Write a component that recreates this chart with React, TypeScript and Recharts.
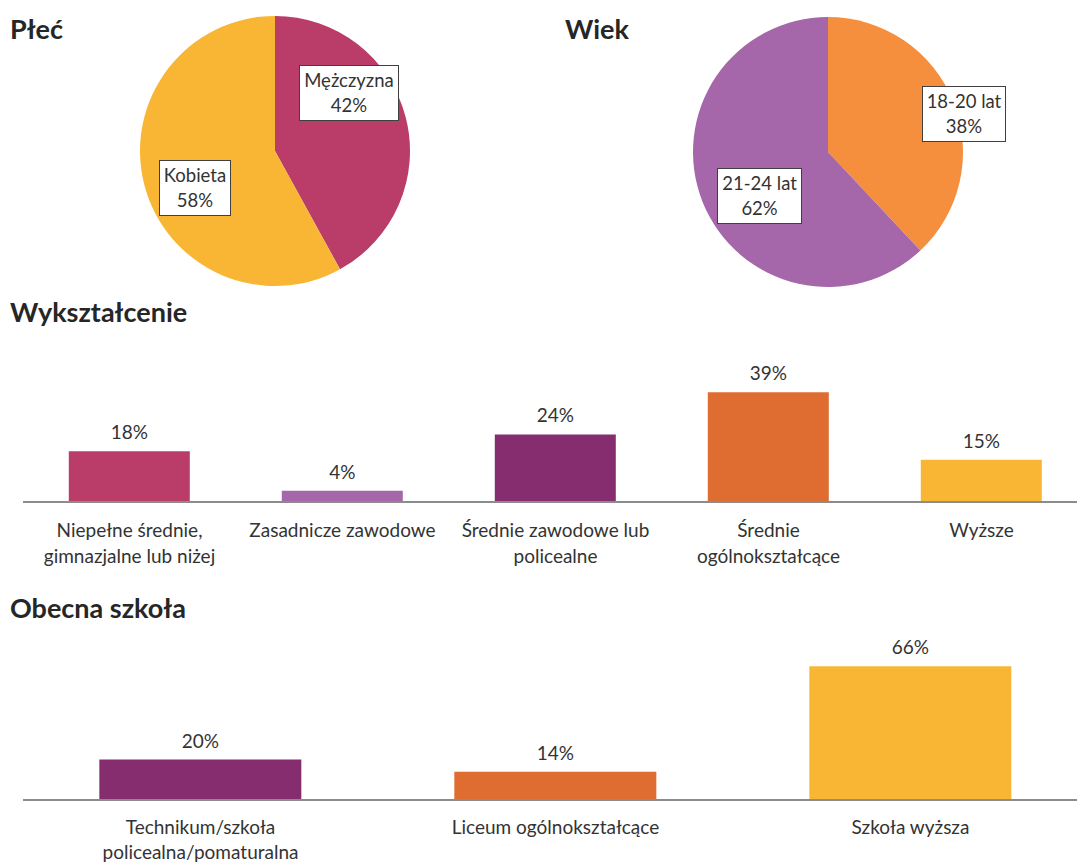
import { PieChart, Pie, Cell, BarChart, Bar, XAxis, YAxis, LabelList } from "recharts";

// data
const genderNames = ["Mężczyzna", "Kobieta"];
const genderValues = [42, 58];
const genderColors = ["#BA3C68", "#F8B634"];

const ageNames = ["18-20 lat", "21-24 lat"];
const ageValues = [38, 62];
const ageColors = ["#F58F3D", "#A567AA"];

const eduCategories = [
  "Niepełne średnie,\ngimnazjalne lub niżej",
  "Zasadnicze zawodowe",
  "Średnie zawodowe lub\npolicealne",
  "Średnie\nogólnokształcące",
  "Wyższe",
];
const eduValues = [18, 4, 24, 39, 15];
const eduColors = ["#BA3C68", "#A567AA", "#862D6F", "#DF6C30", "#F8B634"];

const schoolCategories = [
  "Technikum/szkoła\npolicealna/pomaturalna",
  "Liceum ogólnokształcące",
  "Szkoła wyższa",
];
const schoolValues = [20, 14, 66];
const schoolColors = ["#862D6F", "#DF6C30", "#F8B634"];

// label box centres, as a fraction of the radius from the pie centre
const genderLabelPos = [
  [0.548, -0.43],
  [-0.593, 0.274],
];
const ageLabelPos = [
  [1.007, -0.285],
  [-0.507, 0.326],
];

const FONT = "Lato, 'Open Sans', sans-serif";
const TEXT = "#333333";

const toPie = (names: string[], values: number[]) =>
  names.map((name, i) => ({ name, value: values[i] }));
const toBars = (cats: string[], values: number[]) =>
  cats.map((name, i) => ({ name, value: values[i] }));

const pieLabel =
  (names: string[], pos: number[][], fx: number, fy: number) => (props: any) => {
    const idx = props.index;
    const cx = props.cx ?? fx;
    const cy = props.cy ?? fy;
    const r = props.outerRadius;
    const x = cx + pos[idx][0] * r;
    const y = cy + pos[idx][1] * r;
    return (
      <foreignObject x={x - 90} y={y - 45} width={180} height={90} key={`l-${idx}`}>
        <div
          style={{
            width: "100%",
            height: "100%",
            display: "flex",
            alignItems: "center",
            justifyContent: "center",
          }}
        >
          <div
            style={{
              background: "#fff",
              border: "1.5px solid #404040",
              padding: "2px 4px",
              textAlign: "center",
              fontFamily: FONT,
              fontSize: 18.5,
              lineHeight: "25px",
              color: TEXT,
              whiteSpace: "nowrap",
            }}
          >
            {names[idx]}
            <br />
            {props.value}%
          </div>
        </div>
      </foreignObject>
    );
  };

const MultiLineTick = ({ x, y, payload, first, step }: any) => {
  const lines = String(payload.value).split("\n");
  return (
    <text x={x} y={y} textAnchor="middle" fill={TEXT} fontSize={19} fontFamily={FONT}>
      {lines.map((l, i) => (
        <tspan key={i} x={x} dy={i === 0 ? first : step}>
          {l}
        </tspan>
      ))}
    </text>
  );
};

const titleStyle = (left: number, top: number): React.CSSProperties => ({
  position: "absolute",
  left,
  top,
  fontFamily: FONT,
  fontWeight: 700,
  fontSize: 27,
  color: "#262626",
  lineHeight: "32px",
  whiteSpace: "nowrap",
});

export default function App() {
  const genderData = toPie(genderNames, genderValues);
  const ageData = toPie(ageNames, ageValues);
  const eduData = toBars(eduCategories, eduValues);
  const schoolData = toBars(schoolCategories, schoolValues);

  return (
    <div
      style={{
        position: "fixed",
        left: 0,
        top: 0,
        width: 1077,
        height: 862,
        overflow: "hidden",
        background: "#fff",
      }}
    >
      <div style={{ position: "absolute", left: 0, top: 0 }}>
        <PieChart width={1077} height={300} margin={{ top: 0, right: 0, bottom: 0, left: 0 }}>
          <Pie
            data={genderData}
            dataKey="value"
            cx={275}
            cy={151}
            outerRadius={135}
            startAngle={90}
            endAngle={-270}
            stroke="none"
            labelLine={false}
            label={pieLabel(genderNames, genderLabelPos, 275, 151)}
            isAnimationActive={false}
          >
            {genderData.map((_, i) => (
              <Cell key={i} fill={genderColors[i]} />
            ))}
          </Pie>
          <Pie
            data={ageData}
            dataKey="value"
            cx={828}
            cy={152}
            outerRadius={135}
            startAngle={90}
            endAngle={-270}
            stroke="none"
            labelLine={false}
            label={pieLabel(ageNames, ageLabelPos, 828, 152)}
            isAnimationActive={false}
          >
            {ageData.map((_, i) => (
              <Cell key={i} fill={ageColors[i]} />
            ))}
          </Pie>
        </PieChart>
      </div>

      <div style={{ position: "absolute", left: 0, top: 323 }}>
        <BarChart
          width={1088}
          height={259}
          data={eduData}
          margin={{ top: 10, right: 0, left: 23, bottom: 0 }}
          barCategoryGap="21.5%"
        >
          <XAxis
            dataKey="name"
            interval={0}
            height={80}
            tickSize={0}
            tickMargin={0}
            tickLine={false}
            axisLine={{ stroke: "#8c8c8c", strokeWidth: 2 }}
            tick={<MultiLineTick first={35} step={26} />}
          />
          <YAxis hide domain={[0, 60]} />
          <Bar dataKey="value" isAnimationActive={false}>
            {eduData.map((_, i) => (
              <Cell key={i} fill={eduColors[i]} />
            ))}
            <LabelList
              dataKey="value"
              position="top"
              offset={12}
              formatter={(v: any) => `${v}%`}
              fill={TEXT}
              fontSize={19}
              fontFamily={FONT}
            />
          </Bar>
        </BarChart>
      </div>

      <div style={{ position: "absolute", left: 0, top: 628 }}>
        <BarChart
          width={1088}
          height={234}
          data={schoolData}
          margin={{ top: 10, right: 0, left: 23, bottom: 0 }}
          barCategoryGap="21.5%"
        >
          <XAxis
            dataKey="name"
            interval={0}
            height={62}
            tickSize={0}
            tickMargin={0}
            tickLine={false}
            axisLine={{ stroke: "#8c8c8c", strokeWidth: 2 }}
            tick={<MultiLineTick first={34} step={25} />}
          />
          <YAxis hide domain={[0, 80]} />
          <Bar dataKey="value" isAnimationActive={false}>
            {schoolData.map((_, i) => (
              <Cell key={i} fill={schoolColors[i]} />
            ))}
            <LabelList
              dataKey="value"
              position="top"
              offset={12}
              formatter={(v: any) => `${v}%`}
              fill={TEXT}
              fontSize={19}
              fontFamily={FONT}
            />
          </Bar>
        </BarChart>
      </div>

      <div style={titleStyle(10, 13)}>Płeć</div>
      <div style={titleStyle(565, 13)}>Wiek</div>
      <div style={titleStyle(10, 296)}>Wykształcenie</div>
      <div style={titleStyle(10, 592)}>Obecna szkoła</div>
    </div>
  );
}
